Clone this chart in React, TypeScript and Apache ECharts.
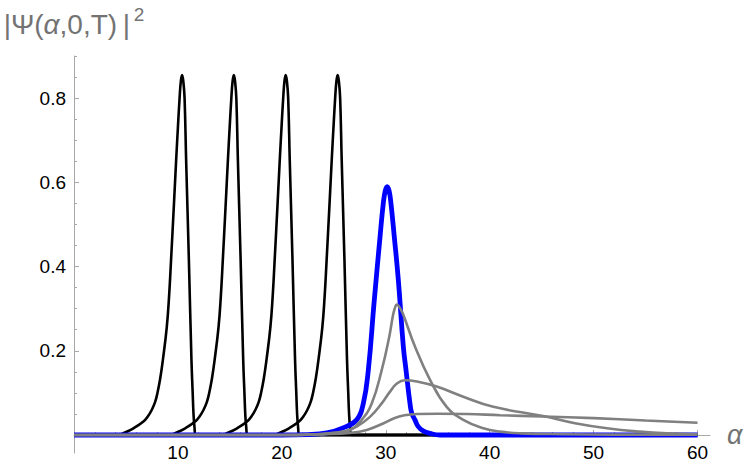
import React, { useEffect, useRef } from "react";
import * as echarts from "echarts";

// ---- data (alpha, |Psi|^2) ----
const black1: number[][] = [[0,0],[4.1,0],[4.9,0.006],[5.72,0.016],[6.68,0.032],[7.1,0.044],[7.49,0.06],[7.8,0.078],[8.03,0.1],[8.3,0.135],[8.55,0.178],[8.93,0.257],[9.15,0.33],[9.34,0.416],[9.6,0.54],[9.83,0.653],[10.02,0.74],[10.16,0.8],[10.28,0.84],[10.4,0.855],[10.52,0.84],[10.64,0.8],[10.79,0.653],[11.05,0.42],[11.3,0.18],[11.42,0.1],[11.5,0.05],[11.59,0.02],[11.72,0],[12.5,0],[60,0]];
const black2: number[][] = [[0,0],[9.08,0],[9.88,0.006],[10.7,0.016],[11.66,0.032],[12.08,0.044],[12.47,0.06],[12.78,0.078],[13.01,0.1],[13.28,0.135],[13.53,0.178],[13.91,0.257],[14.13,0.33],[14.32,0.416],[14.58,0.54],[14.81,0.653],[15.0,0.74],[15.14,0.8],[15.26,0.84],[15.38,0.855],[15.5,0.84],[15.62,0.8],[15.77,0.653],[16.03,0.42],[16.28,0.18],[16.4,0.1],[16.48,0.05],[16.57,0.02],[16.7,0],[17.5,0],[60,0]];
const black3: number[][] = [[0,0],[14.07,0],[14.87,0.006],[15.69,0.016],[16.65,0.032],[17.07,0.044],[17.46,0.06],[17.77,0.078],[18.0,0.1],[18.27,0.135],[18.52,0.178],[18.9,0.257],[19.12,0.33],[19.31,0.416],[19.57,0.54],[19.8,0.653],[19.99,0.74],[20.13,0.8],[20.25,0.84],[20.37,0.855],[20.49,0.84],[20.61,0.8],[20.76,0.653],[21.02,0.42],[21.27,0.18],[21.39,0.1],[21.47,0.05],[21.56,0.02],[21.69,0],[22.5,0],[60,0]];
const black4: number[][] = [[0,0],[19.07,0],[19.87,0.006],[20.69,0.016],[21.65,0.032],[22.07,0.044],[22.46,0.06],[22.77,0.078],[23.0,0.1],[23.27,0.135],[23.52,0.178],[23.9,0.257],[24.12,0.33],[24.31,0.416],[24.57,0.54],[24.8,0.653],[24.99,0.74],[25.13,0.8],[25.25,0.84],[25.37,0.855],[25.49,0.84],[25.61,0.8],[25.76,0.653],[26.02,0.42],[26.27,0.18],[26.39,0.1],[26.47,0.05],[26.56,0.02],[26.69,0],[27.5,0],[60,0]];
const blueCurve: number[][] = [[0,0],[20,0],[22.5,0.001],[24.32,0.005],[25.89,0.017],[27.2,0.036],[27.84,0.075],[28.32,0.154],[28.87,0.313],[29.45,0.471],[29.76,0.55],[29.95,0.58],[30.13,0.59],[30.32,0.58],[30.5,0.55],[30.82,0.471],[31.21,0.368],[31.69,0.21],[31.95,0.154],[32.33,0.075],[32.5,0.052],[32.81,0.036],[33.13,0.02],[33.6,0.01],[34.26,0.004],[35.2,0],[36.5,0],[60,0]];
const grayA: number[][] = [[0,0],[20,0],[23,0.001],[25,0.005],[26.56,0.012],[27.68,0.036],[28.65,0.075],[29.61,0.154],[30.34,0.234],[30.7,0.285],[30.9,0.303],[31.05,0.31],[31.25,0.306],[31.63,0.289],[32.81,0.21],[34.26,0.131],[35.86,0.067],[37.46,0.036],[39.39,0.016],[40.99,0.008],[43,0.004],[47,0.002],[52,0.001],[60,0.0005]];
const grayB: number[][] = [[0,0],[20,0],[23.5,0.002],[25.89,0.008],[27.2,0.02],[28.48,0.043],[29.61,0.075],[30.41,0.103],[31.1,0.123],[31.85,0.13],[33,0.127],[34.9,0.115],[37.46,0.091],[40.35,0.067],[45.13,0.045],[48.21,0.028],[51.29,0.016],[54.44,0.008],[57.04,0.004],[60,0.002]];
const grayC: number[][] = [[0,0],[20,0],[24,0.002],[26.56,0.005],[28.17,0.012],[29.8,0.028],[30.8,0.04],[31.8,0.047],[33,0.05],[35,0.0505],[37.8,0.05],[41,0.047],[45.1,0.044],[50,0.04],[55,0.0345],[60,0.029]];

const xMajorTicks = [10, 20, 30, 40, 50, 60];
const xMinorTicks = [2, 4, 6, 8, 12, 14, 16, 18, 22, 24, 26, 28, 32, 34, 36, 38, 42, 44, 46, 48, 52, 54, 56, 58];
const yMajorTicks = [0.2, 0.4, 0.6, 0.8];
const yMinorTicks = [0.05, 0.1, 0.15, 0.25, 0.3, 0.35, 0.45, 0.5, 0.55, 0.65, 0.7, 0.75, 0.85, 0.9];

const X_MIN = 0, X_MAX = 61.2, Y_MIN = -0.0427, Y_MAX = 0.9;
const AXIS_COLOR = "#a8a8a8";
const NAME_COLOR = "#737373";
const FONT = "'Liberation Sans', Arial, sans-serif";

export default function App() {
  const ref = useRef<HTMLDivElement>(null);
  useEffect(() => {
    if (!ref.current) return;
    const chart = echarts.init(ref.current, undefined, { renderer: "svg" });
    const gridBox = { left: 74, right: 37, top: 56, bottom: 12, outerBoundsMode: "none" } as any;
    const lineSeries = (data: number[][], color: string, width: number) => ({
      type: "line",
      data,
      xAxisIndex: 0,
      yAxisIndex: 0,
      showSymbol: false,
      symbol: "none",
      smooth: 0.45,
      lineStyle: { color, width },
      itemStyle: { color },
      emphasis: { disabled: true },
      silent: true,
    });
    chart.setOption({
      animation: false,
      backgroundColor: "#ffffff",
      grid: [{ ...gridBox }, { ...gridBox }],
      xAxis: [
        {
          type: "value",
          gridIndex: 0,
          min: X_MIN,
          max: X_MAX,
          splitLine: { show: false },
          axisLine: { show: true, onZero: true, lineStyle: { color: AXIS_COLOR, width: 1 } },
          axisTick: { show: true, inside: true, length: 5, customValues: xMajorTicks, lineStyle: { color: AXIS_COLOR, width: 1 } },
          axisLabel: { show: true, customValues: xMajorTicks, fontSize: 19, color: "#000", margin: -10, fontFamily: FONT },
          name: "α",
          nameLocation: "end",
          nameGap: 17,
          nameTextStyle: { fontSize: 27, fontStyle: "italic", color: NAME_COLOR, fontFamily: FONT, verticalAlign: "middle" },
        },
        {
          type: "value",
          gridIndex: 1,
          min: X_MIN,
          max: X_MAX,
          splitLine: { show: false },
          axisLine: { show: false, onZero: true },
          axisTick: { show: true, inside: true, length: 3, customValues: xMinorTicks, lineStyle: { color: AXIS_COLOR, width: 1 } },
          axisLabel: { show: false },
        },
      ],
      yAxis: [
        {
          type: "value",
          gridIndex: 0,
          min: Y_MIN,
          max: Y_MAX,
          splitLine: { show: false },
          axisLine: { show: true, onZero: true, lineStyle: { color: AXIS_COLOR, width: 1 } },
          axisTick: { show: true, inside: true, length: 5, customValues: yMajorTicks, lineStyle: { color: AXIS_COLOR, width: 1 } },
          axisLabel: { show: true, customValues: yMajorTicks, fontSize: 19, color: "#000", margin: 8, fontFamily: FONT, formatter: (v: number) => v.toFixed(1) },
          name: "{t||Ψ(}{i|α}{t|,0,T)\u2009|}{s|\u20092}",
          nameLocation: "end",
          nameGap: 12,
          nameTextStyle: {
            color: NAME_COLOR,
            fontFamily: FONT,
            fontSize: 28,
            rich: {
              t: { fontSize: 28, color: NAME_COLOR, fontFamily: FONT },
              i: { fontSize: 28, color: NAME_COLOR, fontFamily: FONT, fontStyle: "italic" },
              s: { fontSize: 19, color: NAME_COLOR, fontFamily: FONT, verticalAlign: "top", padding: [0, 0, 20, 0] },
            },
          },
        },
        {
          type: "value",
          gridIndex: 1,
          min: Y_MIN,
          max: Y_MAX,
          splitLine: { show: false },
          axisLine: { show: false, onZero: true },
          axisTick: { show: true, inside: true, length: 3, customValues: yMinorTicks, lineStyle: { color: AXIS_COLOR, width: 1 } },
          axisLabel: { show: false },
        },
      ],
      series: [
        lineSeries(black1, "#000000", 2.6),
        lineSeries(black2, "#000000", 2.6),
        lineSeries(black3, "#000000", 2.6),
        lineSeries(black4, "#000000", 2.6),
        lineSeries(blueCurve, "#0000ff", 4.8),
        lineSeries(grayA, "#808080", 2.6),
        lineSeries(grayB, "#808080", 2.6),
        lineSeries(grayC, "#808080", 2.6),
      ],
    });
    return () => chart.dispose();
  }, []);
  return (
    <div
      ref={ref}
      style={{ position: "fixed", left: 0, top: 0, width: 747, height: 465, background: "#fff" }}
    />
  );
}
